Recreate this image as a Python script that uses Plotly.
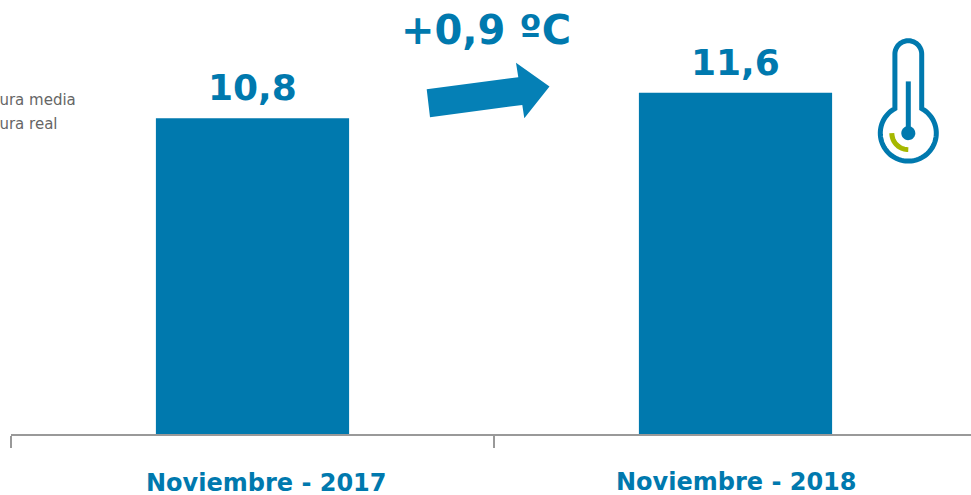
import numpy as np
import plotly.graph_objects as go

categories = ["Noviembre - 2017", "Noviembre - 2018"]
bar_values = [10.8, 11.68]
bar_labels = ["10,8", "11,6"]
delta_label = "+0,9 ºC"
legend_labels = ["Temperatura media", "Temperatura real"]

W, H = 971, 495
AXIS_Y = 434.5
LEFT = 11
BLUE = "#0079AE"
ARROW = "#0580B6"
GREEN = "#A6B800"
FONT = "DejaVu Sans"


def px(x, y):
    return (x - LEFT) / (W - LEFT), 1 - y / AXIS_Y


def path(points, close=False):
    s = []
    for i, (x, y) in enumerate(points):
        a, b = px(x, y)
        s.append(f"{'M' if i == 0 else 'L'}{a:.5f},{b:.5f}")
    return " ".join(s) + (" Z" if close else "")


def arc(cx, cy, r, a0, a1, n=40):
    t = np.radians(np.linspace(a0, a1, n))
    return list(zip(cx + r * np.cos(t), cy + r * np.sin(t)))


def pshape(points, close=False, fill=None, line=None, width=0):
    d = dict(type="path", xref="paper", yref="paper", path=path(points, close), layer="above")
    d["fillcolor"] = fill if fill else "rgba(0,0,0,0)"
    d["line"] = dict(color=line if line else "rgba(0,0,0,0)", width=width)
    return d


arrow_pts = [(426.7, 89.3), (518.3, 77.3), (516, 62.7), (549.5, 86.7),
             (524.3, 118.5), (522.3, 105), (430, 117.3)]

cx, cy, r = 908.3, 133.3, 28.0
tube_half = 13.4
tube_cy = 54.2
meet = np.degrees(np.arcsin(tube_half / r))
outline = (
    arc(cx, tube_cy, tube_half, 180, 360)
    + arc(cx, cy, r, -90 + meet, 270 - meet, 80)
)

shapes = [
    pshape(arrow_pts, close=True, fill=ARROW),
    pshape(outline, close=True, line=BLUE, width=5),
    pshape([(cx, 81.5), (cx, cy)], line=BLUE, width=5),
    pshape(arc(cx, cy, 7, 0, 360), close=True, fill=BLUE),
    pshape(arc(cx, cy, 16.5, 180, 90, 20), line=GREEN, width=5),
]

fig = go.Figure(
    go.Bar(x=[0, 1], y=bar_values, width=0.4, marker=dict(color=BLUE, line=dict(width=0)), hoverinfo="skip")
)

annotations = []
for i, lab in enumerate(bar_labels):
    annotations.append(dict(x=i, y=bar_values[i], xref="x", yref="y", text=f"<b>{lab}</b>", showarrow=False,
                            yanchor="bottom", yshift=8, font=dict(family=FONT, size=36, color=BLUE)))
label_x = [266.5, 736]
label_y = [484, 483]
for name, lx, ly in zip(categories, label_x, label_y):
    xp, yp = px(lx, ly)
    annotations.append(dict(x=xp, y=yp, xref="paper", yref="paper", text=f"<b>{name}</b>", showarrow=False,
                            xanchor="center", yanchor="middle", font=dict(family=FONT, size=24, color=BLUE)))
xp, yp = px(485.5, 30)
annotations.append(dict(x=xp, y=yp, xref="paper", yref="paper", text=f"<b>{delta_label}</b>", showarrow=False,
                        xanchor="center", yanchor="middle", font=dict(family=FONT, size=40, color=BLUE)))
for name, ly in zip(legend_labels, [100.5, 124]):
    xp, yp = px(-74, ly)
    annotations.append(dict(x=xp, y=yp, xref="paper", yref="paper", text=name, showarrow=False,
                            xanchor="left", yanchor="middle", font=dict(family=FONT, size=15, color="#666666")))

fig.update_layout(
    width=W, height=H,
    margin=dict(l=LEFT, r=0, t=0, b=H - AXIS_Y, pad=0),
    paper_bgcolor="white", plot_bgcolor="white",
    showlegend=False,
    shapes=shapes,
    annotations=annotations,
    xaxis=dict(range=[-0.5, (W - LEFT) / 483 - 0.5], tickmode="array", tickvals=[-0.5, 0.5],
               ticktext=["", ""], ticks="outside", ticklen=12, tickwidth=1.5, tickcolor="#999999",
               showline=True, linecolor="#999999", linewidth=1.5, showgrid=False, zeroline=False),
    yaxis=dict(range=[0, AXIS_Y / 29.26], visible=False, showgrid=False, zeroline=False),
)

fig.write_html("out.html", config={"displayModeBar": False},
               post_script="document.body.style.margin='0';document.documentElement.style.overflow='hidden';")
